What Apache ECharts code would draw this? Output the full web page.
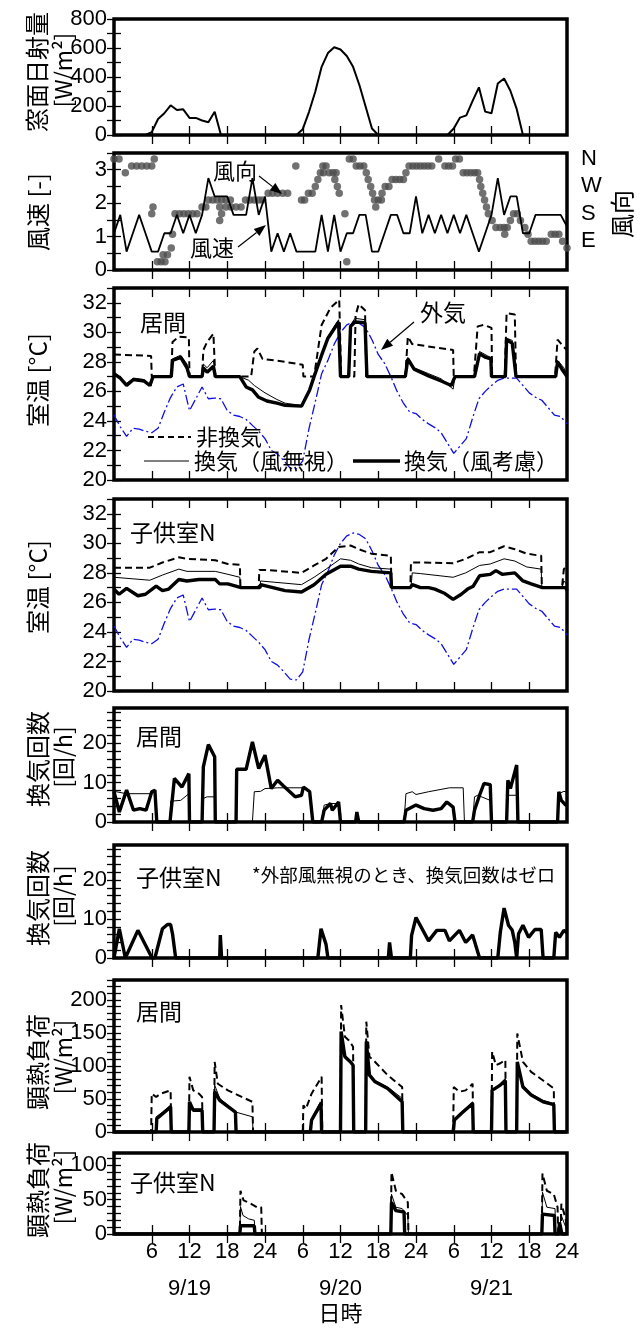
<!DOCTYPE html>
<html><head><meta charset="utf-8">
<script src="https://cdn.jsdelivr.net/npm/echarts@6/dist/echarts.min.js"></script>
<style>html,body{margin:0;padding:0;background:#fff}#c{width:640px;height:1329px}</style>
</head><body><div id="c"></div>
<script>
// ---------------- DATA ----------------
// hours 0..72 (9/19 0:00 .. 9/21 24:00)
const hourTicks = [6,12,18,24,30,36,42,48,54,60,66];
const hourLabels = [6,12,18,24,30,36,42,48,54,60,66,72];
const dayLabels = {12:'9/19', 36:'9/20', 60:'9/21'};
const dirLabels = {90:'E', 180:'S', 270:'W', 360:'N'};

// window solar radiation [W/m2], hourly 0..72
const solar = [0,0,0,0,0,0,20,110,150,205,172,177,118,118,100,88,160,0,0,0,0,0,0,0,
  0,0,0,0,0,0,40,160,300,470,565,605,590,545,470,345,195,45,0,0,0,0,0,0,
  0,0,0,0,0,0,45,120,135,235,329,161,150,355,390,305,180,0,0,0,0,0,0,0,0];

// wind speed [-], hourly 0..72
const windSpeed = [1.1,1.65,0.55,1.1,1.65,1.1,0.55,0.55,1.1,1.1,1.65,1.1,1.65,1.1,1.65,2.75,2.2,2.2,2.2,1.65,1.65,1.65,2.75,1.65,
  2.2,0.55,1.1,0.55,1.1,0.55,0.55,0.55,0.55,1.65,0.55,1.65,0.55,1.1,1.1,1.65,1.65,0.55,0.55,1.1,1.65,1.65,1.1,1.1,
  2.2,1.1,1.65,1.1,1.65,1.1,1.65,1.1,1.65,1.1,0.55,1.1,1.65,2.75,1.65,2.2,2.2,1.1,1.1,1.65,1.65,1.65,1.65,1.65,1.3];

// wind direction [deg], [hour, deg]
const windDir = [[0,360],[0.8,360],[1.8,315],[2.8,337.5],[3.6,337.5],[4.4,337.5],[5.2,337.5],[6.0,337.5],[6.4,360],[6.2,202.5],[6.0,180],
  [6.9,22.5],[7.5,22.5],[8.1,22.5],[7.8,45],[8.5,45],[9.1,67.5],[9.3,112.5],[9.7,180],[10.4,180],[11.1,180],[11.8,180],[12.5,180],[13.2,180],
  [14.0,202.5],[14.6,202.5],[15.0,225],[15.7,225],[16.4,225],[17.1,225],[17.8,225],[18.5,225],[16.8,202.5],[17.1,180],[16.8,157.5],
  [17.8,202.5],[18.6,202.5],[19.4,202.5],[20.2,202.5],[20.9,225],[21.6,225],[22.3,225],[23.0,225],[23.6,225],
  [24.5,247.5],[25.2,247.5],[26.0,247.5],[26.8,247.5],[27.6,247.5],[28.9,337.5],[29.8,225],[30.3,225],[30.9,247.5],[31.5,247.5],
  [32.0,270],[32.4,292.5],[32.8,315],[33.3,315],[33.2,337.5],[33.7,337.5],[34.2,315],[34.8,315],[35.3,315],[35.1,292.5],[35.5,270],[35.8,247.5],
  [36.7,180],[37.0,22.5],[37.4,360],[38.0,360],[38.5,337.5],[39.1,337.5],[39.7,337.5],[40.1,315],[40.4,292.5],[40.8,270],[41.1,247.5],
  [41.4,225],[42.0,225],[42.5,225],[41.6,202.5],[42.6,247.5],[43.1,270],[43.7,270],[44.2,292.5],[44.8,292.5],[45.4,292.5],[46.0,292.5],
  [46.4,315],[46.9,337.5],[47.5,337.5],[48.1,337.5],[48.7,337.5],[49.3,337.5],[49.9,337.5],[50.5,337.5],[51.6,360],[52.6,337.5],[53.2,337.5],
  [53.8,337.5],[54.3,360],[54.9,360],[55.5,315],[56.1,315],[56.7,315],[57.3,315],[57.8,315],[58.1,292.5],[58.3,270],[58.6,247.5],[58.9,225],
  [59.2,202.5],[59.5,180],[60.1,157.5],[60.7,135],[61.4,135],[62.0,135],[62.5,135],[62.1,112.5],[63.0,157.5],[63.5,180],[64.1,180],
  [64.6,157.5],[65.3,135],[65.8,112.5],[66.3,90],[66.9,90],[67.5,90],[68.1,90],[68.7,90],[69.5,112.5],[70.1,112.5],[70.7,112.5],[71.3,90],[72,67.5]];

// outdoor air temperature [C], hourly 0..72
const outdoorT = [24.4,23.6,22.95,23.5,23.45,23.3,23.2,23.5,24.6,25.6,26.3,26.5,24.7,25.5,26.3,25.5,25.55,25.5,24.7,24.4,24.3,24.1,23.7,23.3,
  22.8,22.0,21.75,21.3,20.8,20.75,21.3,23.5,25.3,27.2,28.1,29.2,30.0,30.5,30.7,30.6,30.3,29.5,28.5,27.9,27.0,26.0,25.2,24.6,
  24.5,24.1,23.8,23.55,23.2,22.5,21.8,22.3,22.8,24.2,25.5,26.0,26.4,26.75,26.9,26.9,26.9,26.4,25.9,25.6,25.4,24.9,24.4,24.3,23.8];

// living room temperature [C], [hour, value]
const livNoVentT = [[0,28.5],[5.9,28.4],[6.0,27],[9.1,27],[9.3,29.35],[10.3,29.7],[11.9,29.65],[12.0,27],[14.0,27],[14.2,28.8],[14.8,29.35],[15.8,29.9],[16.1,27],
  [21.8,27],[22.3,28.7],[22.8,28.9],[23.6,28.2],[27.2,28.0],[30.0,27.8],[30.1,27],[31.8,27],[33.0,30.5],[34.4,31.65],[35.8,32.2],[36.1,27],
  [38.2,27],[38.4,31.15],[38.9,31.9],[39.9,31.5],[40.1,27],[46.3,27],[46.7,29.7],[47.4,29.2],[53.9,28.8],[54.0,27],[57.2,27],[57.8,30.4],
  [58.8,30.5],[60.0,30.3],[60.1,27],[62.1,27],[62.4,31.3],[63.7,31.2],[63.9,27],[70.1,27],[70.5,29.5],[71.5,29.0],[72,28.8]];
const livIgnoreT = [[0,27.3],[1,26.9],[2,26.55],[3.1,26.9],[4.8,26.8],[5.9,26.35],[6.2,27],[9.1,27],[9.3,28.2],[10.6,28.45],[11.6,27.85],[12.0,27],
  [14.0,27],[14.2,27.85],[14.8,27.6],[15.8,28.1],[16.1,27],[20.0,27],[21.4,26.75],[22.3,26.4],[24.0,25.9],[25.9,25.45],[27.2,25.2],[29.8,25.05],
  [31.1,26.1],[31.8,27],[33.0,28.5],[34.0,29.7],[35.7,30.85],[36.0,27],[37.3,27],[37.6,30.5],[38.3,30.95],[39.9,30.85],[40.2,27],[46.3,27],
  [46.7,28.3],[47.7,27.6],[50.0,27.2],[52.0,26.85],[53.9,26.15],[54.2,27],[57.3,27],[58.1,28.7],[59.4,28.4],[59.9,28.3],[60.0,27],[62.2,27],
  [62.4,29.6],[63.3,29.45],[63.9,27],[70.2,27],[70.5,28.1],[71.5,27.6],[72,27.1]];
const livWindT = [[0,27.2],[1,26.9],[2,26.4],[3.1,26.8],[4.8,26.7],[5.7,26.4],[6.2,27],[9.1,27],[9.3,28.1],[10.6,28.3],[11.6,27.6],[12.0,27],
  [14.0,27],[14.2,27.6],[14.8,27.3],[15.8,27.7],[16.1,27],[20.0,27],[21.0,26.3],[22.0,26.1],[23.0,25.6],[24.3,25.35],[25.9,25.2],[27.2,25.05],
  [29.8,25.0],[31.1,26.1],[31.8,27],[33.0,28.45],[34.0,29.6],[35.7,30.7],[36.0,27],[37.3,27],[37.6,30.4],[38.3,30.7],[39.9,30.65],[40.2,27],
  [46.3,27],[46.7,28.2],[47.7,27.5],[50.0,27.05],[52.0,26.7],[53.6,26.4],[54.2,27],[57.3,27],[58.1,28.55],[59.1,28.3],[59.9,28.2],[60.0,27],
  [62.2,27],[62.4,29.5],[63.3,29.25],[63.9,27],[70.2,27],[70.5,28.0],[71.2,27.5],[72,27.0]];

// child room N temperature [C]
const kidNoVentT = [[0,28.35],[5.7,28.35],[7.7,28.7],[10.3,29.05],[11.6,28.95],[16.1,28.85],[18.1,28.6],[20.0,28.55],[20.1,27],[23.0,27],[23.1,28.2],
  [24.0,28.2],[29.8,28.0],[31.8,28.5],[33.7,28.95],[35.7,29.75],[37.6,29.85],[38.9,29.6],[40.9,29.3],[44.0,29.15],[44.1,27],[47.1,27],[47.2,28.7],
  [48.7,28.7],[53.9,28.65],[55.9,28.95],[58.1,29.4],[59.8,29.4],[62.0,29.8],[63.7,29.6],[65.6,29.3],[67.9,29.15],[68.0,27],[71.2,27],[71.5,28.25],[72,28.5]];
const kidIgnoreT = [[0,27.7],[5.7,27.5],[7.7,27.85],[10.3,28.25],[11.6,28.1],[16.1,28.1],[18.1,27.9],[20.0,27.7],[20.1,27],[23.2,27],[23.3,27.45],
  [29.8,27.2],[31.8,27.7],[33.7,28.25],[36.0,28.95],[37.6,28.85],[38.9,28.6],[40.9,28.35],[44.0,28.25],[44.1,27],[47.2,27],[47.4,28.0],[48.7,27.95],
  [53.9,27.7],[55.9,28.0],[58.1,28.5],[59.8,28.6],[62.0,28.95],[63.7,28.8],[65.6,28.4],[67.9,28.25],[68.0,27],[71.2,27],[71.5,27.45],[72,27.2]];
const kidWindT = [[0,26.9],[0.8,26.55],[2.0,26.95],[3.8,26.45],[5.0,26.55],[6.7,27.1],[7.7,26.8],[8.7,26.9],[10.3,27.55],[11.6,27.45],[13.5,27.55],
  [16.1,27.55],[16.8,27.25],[18.1,27.25],[20.2,27],[23.2,27],[23.3,27.2],[27.2,26.8],[29.8,26.7],[31.8,27.2],[33.7,27.9],[36.0,28.45],[37.6,28.45],
  [38.9,28.25],[40.9,28.1],[44.0,28.0],[44.1,27],[47.1,27],[47.4,27.2],[48.7,27],[50.0,27],[51.0,26.9],[52.6,26.6],[53.9,26.2],[55.2,26.55],
  [56.2,26.9],[57.1,27.1],[58.1,27.8],[59.8,27.9],[60.7,28.15],[61.7,27.9],[63.7,28.0],[65.0,27.45],[66.3,27.25],[68.1,27],[71.8,27],[72,26.8]];

// air change rate, living [1/h]
const achLivWind = [[0,7.7],[0.85,2.55],[2.0,8.1],[3.1,3.0],[4.1,3.4],[5.1,3.0],[6.0,7.7],[6.5,8.1],[6.8,0],[8.9,0],[9.6,11.1],[10.8,8.9],[11.9,12.3],
  [12.0,0],[14.0,0],[14.2,14.0],[15.0,19.7],[16.0,16.6],[16.1,0],[19.4,0],[19.5,13.4],[21.0,13.4],[22.0,20.4],[23.0,13.6],[24.0,17.0],[25.0,8.5],
  [26.0,10.6],[26.9,9.2],[28.8,6.4],[29.8,6.8],[30.1,8.9],[31.1,7.7],[31.6,0],[33.0,0],[33.4,3.0],[34.4,4.7],[34.7,3.0],[35.7,5.1],[36.0,0],
  [38.4,0],[38.6,2.55],[38.9,0],[46.1,0],[46.4,3.0],[48.0,4.3],[49.3,3.4],[50.7,3.0],[52.0,3.4],[52.9,5.1],[53.9,3.8],[54.2,0],[57.0,0],
  [57.3,3.0],[58.1,6.8],[58.8,9.8],[59.8,9.5],[60.0,0],[62.4,0],[62.6,10.6],[63.0,8.5],[64.0,14.5],[64.2,0],[70.5,0],[70.7,7.7],[71.1,5.5],[71.8,4.3],[72,4.3]];
const achLivIgnore = [[0,7.8],[2.0,7.2],[6.0,7.2],[6.5,8.1],[6.8,0],[8.9,0],[9.0,5.3],[10.6,5.5],[11.9,7.2],[12.0,0],[14.0,0],[14.2,6.0],[14.8,6.4],
  [16.0,6.4],[16.1,0],[22.0,0],[22.3,7.7],[23.3,7.8],[24.0,8.5],[26.0,8.7],[30.1,8.7],[31.1,7.7],[31.6,0],[33.0,0],[33.4,4.3],[34.4,4.7],
  [35.7,4.7],[36.0,0],[46.1,0],[46.4,7.2],[47.4,7.7],[48.0,7.0],[50.0,7.7],[52.0,8.3],[53.3,8.7],[55.5,8.7],[55.7,0],[57.0,0],[57.3,6.4],
  [57.8,6.8],[59.8,5.5],[60.0,0],[62.4,0],[62.6,6.8],[64.0,6.8],[64.2,0],[70.5,0],[70.7,7.2],[71.5,7.8],[72,7.6]];
// air change rate, child room N (wind considered only)
const achKidWind = [[0,0],[0.85,7.5],[1.8,0],[3.8,7.1],[6.05,0],[6.5,0],[7.7,7.5],[8.5,8.6],[9.0,8.6],[9.3,6.2],[9.8,0],[16.8,0],[16.9,5.9],[17.1,0],
  [32.4,0],[32.9,7.5],[33.7,3.5],[34.0,0],[43.6,0],[43.8,4.0],[44.1,0],[47.1,0],[47.3,5.8],[48.0,10.4],[50.0,4.4],[51.3,7.1],[52.6,7.1],[53.3,4.4],
  [54.9,7.1],[55.9,4.0],[57.0,5.9],[58.1,0],[61.0,0],[61.4,6.6],[62.0,12.8],[62.7,8.4],[63.3,7.1],[63.7,4.0],[64.0,0],[64.3,6.2],[65.0,8.4],
  [65.9,5.3],[66.9,7.3],[67.9,7.3],[68.2,0],[69.9,0],[70.2,6.6],[70.8,5.3],[71.5,7.1],[72,6.5]];

// sensible load, living [W/m2]
const loadLivNoVent = [[0,0],[5.9,0],[6.0,58],[6.7,53],[7.4,58],[9.0,63],[9.1,0],[11.9,0],[12.0,83.5],[12.6,63],[13.5,58],[14.0,53],[14.1,0],
  [15.9,0],[16.0,106],[16.5,73],[18.1,63],[22.0,45.6],[22.1,0],[30.0,0],[30.1,40.5],[30.5,35],[31.4,58],[33.0,83.5],[33.1,0],[36.0,0],
  [36.1,192],[36.7,144],[37.3,139],[38.0,129],[38.1,0],[40.0,0],[40.1,167],[40.6,114],[41.5,106],[43.5,86],[45.8,68],[45.9,0],[53.9,0],
  [54.0,68],[54.9,61],[55.9,63],[57.0,73],[57.1,0],[60.0,0],[60.1,121.5],[60.7,101],[61.4,104],[62.2,109],[62.3,0],[64.0,0],[64.1,149],
  [65.0,106],[66.3,91],[68.2,78],[69.9,66],[70.0,0],[72,0]];
const loadLivIgnore = [[0,0],[6.6,0],[6.7,23],[7.7,30],[9.0,40.5],[9.1,0],[11.9,0],[12.0,45.6],[12.6,35],[14.0,35],[14.1,0],[15.9,0],[16.0,71],
  [16.8,51],[19.4,30],[22.0,23],[22.1,0],[31.2,0],[31.4,20],[32.8,45.6],[32.9,0],[36.0,0],[36.1,150],[36.7,116],[37.6,106],[38.0,101],[38.1,0],
  [40.0,0],[40.1,137],[40.6,89],[41.5,78],[43.5,68],[45.8,51],[45.9,0],[53.9,0],[54.1,20],[55.2,30],[57.0,45.6],[57.1,0],[60.0,0],[60.1,63],
  [61.4,73],[62.2,81],[62.3,0],[64.0,0],[64.1,106],[65.0,71],[66.3,58],[68.2,48],[69.9,43],[70.0,0],[72,0]];
const loadLivWind = [[0,0],[6.7,0],[6.8,20],[9.0,38],[9.1,0],[11.9,0],[12.0,45.6],[12.6,33],[14.0,33],[14.1,0],[15.9,0],[16.0,61],[16.8,48],
  [19.3,30],[19.4,0],[31.2,0],[31.4,18],[32.9,43],[33.0,0],[36.0,0],[36.1,152],[36.7,114],[37.6,106],[38.0,101],[38.1,0],[40.0,0],[40.1,137],
  [40.6,86],[41.5,76],[43.5,66],[45.8,45.6],[45.9,0],[53.9,0],[54.1,18],[55.2,28],[57.0,43],[57.1,0],[60.0,0],[60.1,63],[61.4,71],[62.2,78],
  [62.3,0],[64.0,0],[64.1,106],[65.0,68],[66.3,56],[68.2,45.6],[69.9,41.5],[70.0,0],[72,0]];

// sensible load, child room N [W/m2]
const loadKidNoVent = [[0,0],[20.0,0],[20.1,63],[20.6,49],[21.4,46],[22.7,39],[23.4,39],[23.5,0],[44.0,0],[44.1,90],[44.8,63],[45.8,58],[46.7,46],
  [46.8,0],[68.0,0],[68.1,88],[68.8,63],[69.9,58],[70.5,39],[70.6,0],[71.0,0],[71.1,44],[71.8,22],[72,0]];
const loadKidIgnore = [[0,0],[20.0,0],[20.1,40],[20.5,27],[21.4,22],[22.3,20],[22.4,0],[44.0,0],[44.1,58],[44.8,39],[45.8,37],[46.7,27],[46.8,0],
  [68.0,0],[68.1,61],[68.8,39],[70.1,37],[70.2,0],[70.9,0],[71.0,29],[71.8,10],[72,0]];
const loadKidWind = [[0,0],[20.0,0],[20.1,12],[22.3,12],[22.4,0],[44.0,0],[44.1,46],[44.8,34],[46.1,32],[46.2,0],[68.0,0],[68.1,29],[70.0,27],
  [70.1,0],[70.7,0],[70.8,17],[71.2,0],[72,0]];

// y-axis tick / label values
const solarLabels = [0,200,400,600,800];
const speedLabels = [0,1,2,3];
const tempLabels = [20,22,24,26,28,30,32];
const achLabels = [0,10,20];
const loadLivLabels = [0,50,100,150,200];
const loadKidLabels = [0,50,100];

// ---------------- CHART ----------------
const NUM = '"Liberation Sans", Arial, sans-serif';
const JP = '"Noto Sans CJK JP", "Noto Sans", sans-serif';
const hourly = arr => arr.map((v, i) => [i, v]);
const steps = (a, b, s) => { const r = []; for (let v = a; v <= b + 1e-9; v += s) r.push(+v.toFixed(4)); return r; };

const L = 114, R = 73;
const layout = [
  {top: 19,  height: 116, min: 0,  max: 800, labels: solarLabels,   ticks: steps(0, 800, 100)},
  {top: 153, height: 117, min: 0,  max: 3.5, labels: speedLabels,   ticks: steps(0, 3.5, 0.5)},
  {top: 288, height: 192, min: 20, max: 33,  labels: tempLabels,    ticks: steps(20, 33, 1)},
  {top: 499, height: 192, min: 20, max: 33,  labels: tempLabels,    ticks: steps(20, 33, 1)},
  {top: 708, height: 114, min: 0,  max: 29,  labels: achLabels,     ticks: steps(0, 28, 2)},
  {top: 845, height: 113, min: 0,  max: 29,  labels: achLabels,     ticks: steps(0, 28, 2)},
  {top: 980, height: 152, min: 0,  max: 230, labels: loadLivLabels, ticks: steps(0, 230, 10)},
  {top: 1153, height: 81, min: 0,  max: 118, labels: loadKidLabels, ticks: steps(0, 110, 10)}
];

const grid = [], xAxis = [], yAxis = [];
layout.forEach((p, i) => {
  grid.push({left: L, right: R, top: p.top, height: p.height, show: true, borderColor: '#000', borderWidth: 3.5, backgroundColor: 'transparent'});
  const last = i === layout.length - 1;
  const xBase = {type: 'value', gridIndex: i, min: 0, max: 72, splitLine: {show: false}, axisLine: {show: false},
    axisTick: {show: true, inside: true, length: 9, lineStyle: {color: '#000', width: 1.3}, customValues: hourTicks}};
  xAxis.push(Object.assign({}, xBase, {position: 'bottom',
    axisLabel: {show: last, customValues: hourLabels, formatter: v => String(v % 24 === 0 ? 24 : v % 24),
      fontFamily: NUM, fontSize: 22, color: '#000', margin: 7}}));
  xAxis.push(Object.assign({}, xBase, {position: 'top', axisLabel: {show: false}}));
  const yBase = {type: 'value', gridIndex: i, min: p.min, max: p.max, splitLine: {show: false}, axisLine: {show: false},
    axisTick: {show: true, inside: true, length: 7, lineStyle: {color: '#000', width: 1.3}, customValues: p.ticks}};
  yAxis.push(Object.assign({}, yBase, {position: 'left',
    axisLabel: {customValues: p.labels, fontFamily: NUM, fontSize: 22, color: '#000', margin: 7}}));
  yAxis.push(Object.assign({}, yBase, {position: 'right', axisLabel: {show: false}}));
});
// date row + 日時
xAxis.push({type: 'value', gridIndex: 7, min: 0, max: 72, position: 'bottom', offset: 36,
  axisLine: {show: false}, axisTick: {show: false}, splitLine: {show: false},
  axisLabel: {customValues: [12, 36, 60], formatter: v => dayLabels[v], fontFamily: NUM, fontSize: 22, color: '#000', margin: 8},
  name: '日時', nameLocation: 'middle', nameGap: 32, nameTextStyle: {fontFamily: JP, fontSize: 22, color: '#000'}});
// wind direction axis (right of panel 2)
yAxis.push({type: 'value', gridIndex: 1, position: 'right', min: -5, max: 380, splitLine: {show: false},
  axisLine: {show: false}, axisTick: {show: false},
  axisLabel: {customValues: [90, 180, 270, 360], formatter: v => dirLabels[v], fontFamily: NUM, fontSize: 22, color: '#000', margin: 14}});

const line = (name, data, gi, style) => ({
  type: 'line', name, data, xAxisIndex: gi * 2, yAxisIndex: gi * 2, showSymbol: false, symbol: 'none',
  animation: false, lineStyle: Object.assign({color: '#000', width: 1}, style), z: style.z || 3
});
const DASH = {width: 2, type: [7, 4]};
const THIN = {width: 1};
const THICK = {width: 3.4};
const OUT = {width: 1.3, color: '#1010e0', type: [10, 3, 2, 3], z: 2};

const series = [
  line('solar', hourly(solar), 0, {width: 2}),
  line('speed', hourly(windSpeed), 1, {width: 1.8}),
  {type: 'scatter', name: 'dir', data: windDir, xAxisIndex: 2, yAxisIndex: 16, symbolSize: 7.5,
    itemStyle: {color: '#4d4d4d'}, animation: false, z: 2},
  line('outdoor', hourly(outdoorT), 2, OUT),
  line('liv nv', livNoVentT, 2, DASH),
  line('liv ig', livIgnoreT, 2, THIN),
  line('liv w', livWindT, 2, THICK),
  line('outdoor2', hourly(outdoorT), 3, OUT),
  line('kid nv', kidNoVentT, 3, DASH),
  line('kid ig', kidIgnoreT, 3, THIN),
  line('kid w', kidWindT, 3, THICK),
  line('ach liv ig', achLivIgnore, 4, THIN),
  line('ach liv w', achLivWind, 4, THICK),
  line('ach kid w', achKidWind, 5, THICK),
  line('load liv nv', loadLivNoVent, 6, DASH),
  line('load liv ig', loadLivIgnore, 6, THIN),
  line('load liv w', loadLivWind, 6, THICK),
  line('load kid nv', loadKidNoVent, 7, DASH),
  line('load kid ig', loadKidIgnore, 7, THIN),
  line('load kid w', loadKidWind, 7, THICK)
];

// ---------------- TEXT / ANNOTATIONS ----------------
const txt = (x, y, text, size, o = {}) => ({type: 'text', x, y, rotation: o.rot || 0, z: 100,
  style: {text, font: (size) + 'px ' + (o.font || JP), fill: '#000', align: o.align || 'left', verticalAlign: 'middle'}});
const vtxt = (x, y, text, size) => txt(x, y, text, size, {rot: Math.PI / 2, align: 'center'});
const seg = (x1, y1, x2, y2, w, dash) => ({type: 'line', z: 100, shape: {x1, y1, x2, y2},
  style: {stroke: '#000', lineWidth: w, lineDash: dash || null}});
const arrow = (x1, y1, x2, y2) => {
  const a = Math.atan2(y2 - y1, x2 - x1), len = 12, hw = 4.5;
  const bx = x2 - len * Math.cos(a), by = y2 - len * Math.sin(a);
  return [seg(x1, y1, bx, by, 1.2), {type: 'polygon', z: 100, shape: {points: [[x2, y2],
    [bx + hw * Math.sin(a), by - hw * Math.cos(a)], [bx - hw * Math.sin(a), by + hw * Math.cos(a)]]}, style: {fill: '#000'}}];
};

const graphic = [
  vtxt(37, 72, '窓面日射量', 24), vtxt(63, 70, '[W/m²]', 23),
  vtxt(38, 212, '風速 [-]', 24),
  vtxt(622, 214, '風向', 24),
  vtxt(38, 380, '室温 [°C]', 24),
  vtxt(38, 587, '室温 [°C]', 24),
  vtxt(38, 759, '換気回数', 24), vtxt(63, 757, '[回/h]', 23),
  vtxt(38, 898, '換気回数', 24), vtxt(63, 896, '[回/h]', 23),
  vtxt(38, 1062, '顕熱負荷', 24), vtxt(63, 1057, '[W/m²]', 23),
  vtxt(38, 1190, '顕熱負荷', 24), vtxt(63, 1187, '[W/m²]', 23),
  txt(213, 171, '風向', 22), txt(190, 248, '風速', 22),
  ...arrow(259, 176, 282, 194), ...arrow(238, 247, 266, 225),
  txt(140, 322, '居間', 23), txt(420, 312, '外気', 23), ...arrow(414, 322, 381, 350),
  seg(148, 437, 191, 437, 2, [6, 4]), txt(196, 437, '非換気', 22),
  seg(144, 461, 189, 461, 1), txt(194, 461, '換気（風無視）', 22),
  seg(353, 461, 400, 461, 3.4), txt(404, 461, '換気（風考慮）', 22),
  txt(130, 532, '子供室N', 23),
  txt(136, 736, '居間', 23),
  txt(136, 877, '子供室N', 23), txt(252, 875, '*外部風無視のとき、換気回数はゼロ', 18.5),
  txt(136, 1011, '居間', 23),
  txt(130, 1182, '子供室N', 23)
];

const chart = echarts.init(document.getElementById('c'), null, {renderer: 'canvas'});
chart.setOption({animation: false, backgroundColor: '#fff', grid, xAxis, yAxis, series, graphic});
</script></body></html>
